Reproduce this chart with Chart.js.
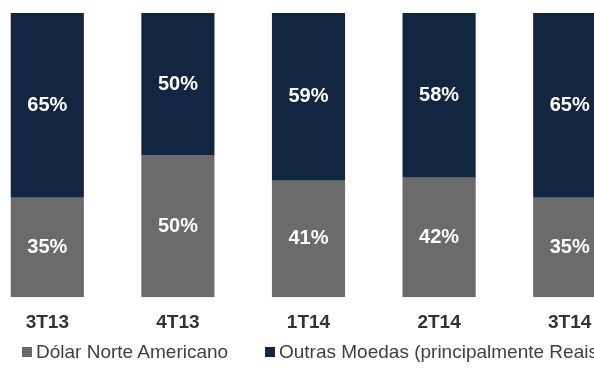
<!DOCTYPE html>
<html>
<head>
<meta charset="utf-8">
<script src="https://cdn.jsdelivr.net/npm/chart.js@4"></script>
<style>
  html, body { margin: 0; padding: 0; background: #fff; overflow: hidden; width: 594px; height: 368px; }
  #wrap { position: absolute; left: -18px; top: 0; width: 653px; height: 368px; }
  #legend { position: absolute; top: 341px; left: 22px; font-family: "Liberation Sans", Arial, sans-serif; font-size: 19px; color: #404040; white-space: nowrap; }
  #legend span.item { position: absolute; top: 0; white-space: nowrap; }
  #legend i { display: inline-block; width: 10px; height: 10px; margin-right: 4px; vertical-align: 1px; }
</style>
</head>
<body>
<div id="wrap"><canvas id="moedasChart"></canvas></div>
<div id="legend"></div>
<script>
const trimestres = ['3T13', '4T13', '1T14', '2T14', '3T14'];
const dolar = [35, 50, 41, 42, 35];
const outras = [65, 50, 59, 58, 65];
const nomes = ['Dólar Norte Americano', 'Outras Moedas (principalmente Reais)'];
const cores = ['#6b6b6b', '#132641'];

// rótulos de porcentagem no meio de cada segmento
const rotulosPlugin = {
    id: 'rotulos',
    afterDatasetsDraw(chart) {
        const ctx = chart.ctx;
        ctx.save();
        ctx.fillStyle = '#ffffff';
        ctx.font = 'bold 20px "Liberation Sans", Arial, sans-serif';
        ctx.textAlign = 'center';
        ctx.textBaseline = 'middle';
        chart.data.datasets.forEach((ds, i) => {
            chart.getDatasetMeta(i).data.forEach((bar, j) => {
                const p = bar.getProps(['x', 'y', 'base'], true);
                ctx.fillText(ds.data[j] + '%', p.x, (p.y + p.base) / 2);
            });
        });
        ctx.restore();
    }
};

const moedasCtx = document.getElementById('moedasChart').getContext('2d');
const moedasChart = new Chart(moedasCtx, {
    type: 'bar',
    data: {
        labels: trimestres,
        datasets: [{
            label: nomes[0],
            data: dolar,
            backgroundColor: cores[0]
        }, {
            label: nomes[1],
            data: outras,
            backgroundColor: cores[1]
        }]
    },
    options: {
        responsive: true,
        maintainAspectRatio: false,
        animation: false,
        layout: { padding: { top: 13, bottom: 20, left: 0, right: 0 } },
        datasets: {
            bar: { categoryPercentage: 1, barPercentage: 0.56 }
        },
        plugins: {
            legend: { display: false },
            tooltip: { enabled: false }
        },
        scales: {
            x: {
                stacked: true,
                grid: { display: false, drawTicks: false },
                border: { display: false },
                ticks: {
                    padding: 14,
                    color: '#333333',
                    font: { family: '"Liberation Sans", Arial, sans-serif', size: 19, weight: 'bold' }
                }
            },
            y: {
                stacked: true,
                display: false,
                min: 0,
                max: 100
            }
        }
    },
    plugins: [rotulosPlugin]
});

// legenda em HTML a partir dos datasets
const legenda = document.getElementById('legend');
const posicoes = [0, 243];
moedasChart.data.datasets.forEach((ds, i) => {
    const item = document.createElement('span');
    item.className = 'item';
    item.style.left = posicoes[i] + 'px';
    item.innerHTML = '<i style="background:' + ds.backgroundColor + '"></i>' + ds.label;
    legenda.appendChild(item);
});
</script>
</body>
</html>
